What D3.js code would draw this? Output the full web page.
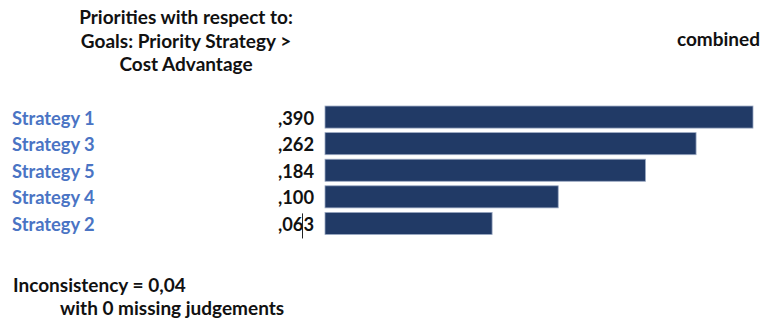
<!DOCTYPE html>
<html>
<head>
<meta charset="utf-8">
<script src="https://cdn.jsdelivr.net/npm/d3@7"></script>
<style>
  html, body { margin: 0; padding: 0; background: #fff; }
  svg { display: block; }
  text { font-family: Lato, "Open Sans", sans-serif; font-weight: 700; }
</style>
</head>
<body>
<svg id="chart" width="764" height="323"></svg>
<script>
// Priorities of the alternatives, sorted from highest to lowest
const strategies = ["Strategy 1", "Strategy 3", "Strategy 5", "Strategy 4", "Strategy 2"];
const priorities = [0.390, 0.262, 0.184, 0.100, 0.063];
const priorityLabels = [",390", ",262", ",184", ",100", ",063"];

const titleLines = ["Priorities with respect to:", "Goals: Priority Strategy >", "Cost Advantage"];
const modeLabel = "combined";
const footerLines = ["Inconsistency = 0,04", "with 0 missing judgements"];

const svg = d3.select("#chart");

// Rows
const y = d3.scaleBand()
  .domain(strategies)
  .range([105.5, 235])
  .paddingInner(0.17)
  .paddingOuter(0.02);

// Bar length grows with the logarithm of the priority
const x = d3.scaleLog()
  .domain([0.0196, 0.39])
  .range([0, 428]);

const barX = 325;

// Title block
svg.append("g")
  .selectAll("text")
  .data(titleLines)
  .join("text")
  .attr("x", 186)
  .attr("y", (d, i) => 24 + i * 23.5)
  .attr("text-anchor", "middle")
  .attr("font-size", 19)
  .attr("fill", "#111")
  .text(d => d);

svg.append("text")
  .attr("x", 760)
  .attr("y", 46)
  .attr("text-anchor", "end")
  .attr("font-size", 19)
  .attr("fill", "#111")
  .text(modeLabel);

const rows = svg.append("g")
  .selectAll("g")
  .data(strategies.map((s, i) => ({ name: s, value: priorities[i], label: priorityLabels[i] })))
  .join("g")
  .attr("transform", d => `translate(0,${y(d.name)})`);

rows.append("text")
  .attr("x", 12)
  .attr("y", y.bandwidth() / 2 + 1)
  .attr("dy", "0.36em")
  .attr("font-size", 18.3)
  .attr("fill", "#4a74c4")
  .text(d => d.name);

rows.append("text")
  .attr("x", 314)
  .attr("y", y.bandwidth() / 2 + 1)
  .attr("dy", "0.36em")
  .attr("text-anchor", "end")
  .attr("font-size", 18.3)
  .attr("fill", "#111")
  .text(d => d.label);

rows.append("rect")
  .attr("x", barX)
  .attr("y", 0)
  .attr("width", d => x(d.value))
  .attr("height", y.bandwidth())
  .attr("fill", "#213a66")
  .attr("stroke", "#9aa8c2")
  .attr("stroke-width", 0.8);

// Text caret inside the last priority label
const last = strategies[strategies.length - 1];
svg.append("line")
  .attr("x1", 302.5).attr("x2", 302.5)
  .attr("y1", y(last) + 1)
  .attr("y2", y(last) + y.bandwidth() + 4)
  .attr("stroke", "#222")
  .attr("stroke-width", 1);

// Footer
svg.append("text")
  .attr("x", 13)
  .attr("y", 292)
  .attr("font-size", 19)
  .attr("fill", "#111")
  .text(footerLines[0]);

svg.append("text")
  .attr("x", 60)
  .attr("y", 315)
  .attr("font-size", 19)
  .attr("fill", "#111")
  .text(footerLines[1]);
</script>
</body>
</html>
